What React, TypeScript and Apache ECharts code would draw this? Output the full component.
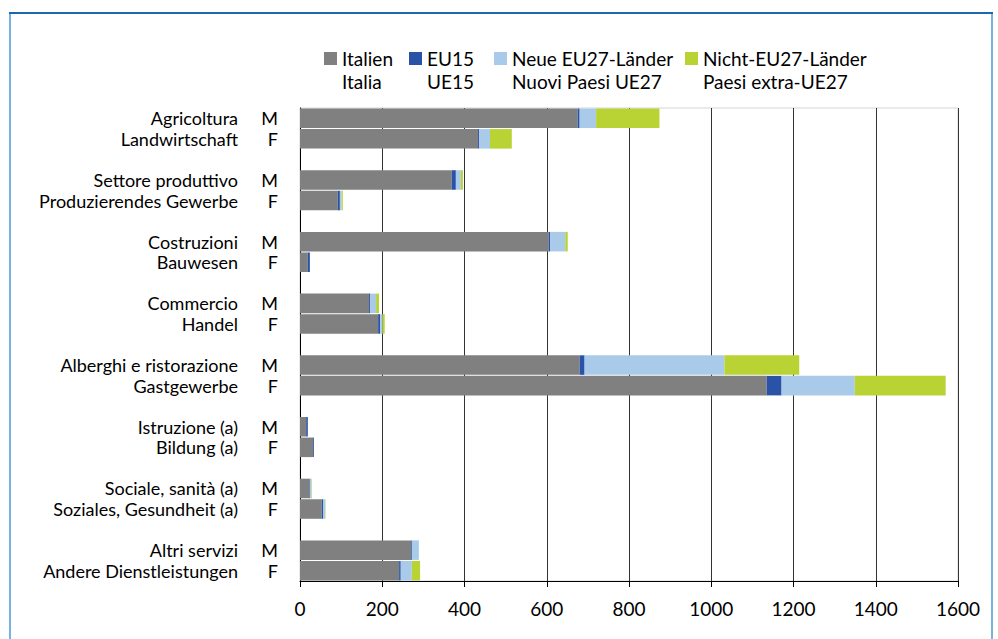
import React, { useEffect, useRef } from "react";
import * as echarts from "echarts";

const sectorsIt = [
  "Agricoltura",
  "Settore produttivo",
  "Costruzioni",
  "Commercio",
  "Alberghi e ristorazione",
  "Istruzione (a)",
  "Sociale, sanità (a)",
  "Altri servizi",
];
const sectorsDe = [
  "Landwirtschaft",
  "Produzierendes Gewerbe",
  "Bauwesen",
  "Handel",
  "Gastgewerbe",
  "Bildung (a)",
  "Soziales, Gesundheit (a)",
  "Andere Dienstleistungen",
];

const seriesNames = [
  "Italien\nItalia",
  "EU15\nUE15",
  "Neue EU27-Länder\nNuovi Paesi UE27",
  "Nicht-EU27-Länder\nPaesi extra-UE27",
];

// values per sector, M then F
const italienM = [675, 369, 605, 168, 680, 15, 23, 270];
const italienF = [433, 92, 19, 190, 1135, 32, 53, 241];
const eu15M = [5, 10, 3, 3, 12, 4, 2, 2];
const eu15F = [3, 5, 5, 5, 36, 2, 3, 4];
const neueM = [40, 12, 37, 14, 340, 0, 3, 17];
const neueF = [26, 4, 0, 6, 178, 0, 5, 27];
const extraM = [154, 5, 6, 7, 182, 0, 1, 0];
const extraF = [53, 3, 0, 5, 221, 0, 1, 20];

const xTicks = [0, 200, 400, 600, 800, 1000, 1200, 1400, 1600];

const colors = ["#808080", "#2a52a6", "#a9cbe9", "#b9d234"];
const FONT = "Lato";
const FS = 19;
const FS_CAT = 18;

function buildRows() {
  const cats: string[] = [];
  for (let s = 0; s < sectorsIt.length; s++) {
    cats.push(`${s}|M`);
    cats.push(`${s}|F`);
    if (s < sectorsIt.length - 1) cats.push(`gap${s}`);
  }
  return cats;
}

function buildData(m: number[], f: number[]) {
  const out: (number | string)[] = [];
  for (let s = 0; s < m.length; s++) {
    out.push(m[s] === 0 ? "-" : m[s]);
    out.push(f[s] === 0 ? "-" : f[s]);
    if (s < m.length - 1) out.push("-");
  }
  return out;
}

export default function App() {
  const ref = useRef<HTMLDivElement>(null);
  useEffect(() => {
    if (!ref.current) return;
    const chart = echarts.init(ref.current, null, { renderer: "svg" });
    const cats = buildRows();
    const pairs = [
      [italienM, italienF],
      [eu15M, eu15F],
      [neueM, neueF],
      [extraM, extraF],
    ];
    const legendLefts = [324, 409, 494, 685];
    const option: any = {
      animation: false,
      backgroundColor: "#ffffff",
      textStyle: { fontFamily: FONT },
      legend: seriesNames.map((n, i) => ({
        data: [n],
        left: legendLefts[i],
        top: 24,
        padding: 0,
        icon: "rect",
        itemWidth: 13,
        itemHeight: 13,
        itemGap: 0,
        selectedMode: false,
        formatter: (name: string) => "\n" + name,
        textStyle: {
          fontFamily: FONT,
          fontSize: FS,
          lineHeight: 23,
          color: "#000",
        },
      })),
      grid: {
        left: 300,
        right: 40,
        top: 108,
        bottom: 58,
        show: true,
        borderColor: "#d4d4d4",
        borderWidth: 1,
      },
      xAxis: {
        type: "value",
        min: 0,
        max: 1600,
        interval: 200,
        axisLine: { show: true, lineStyle: { color: "#000", width: 1 } },
        axisTick: { show: true, length: 6, lineStyle: { color: "#000" } },
        splitLine: { show: true, lineStyle: { color: "#333", width: 1 } },
        axisLabel: {
          fontFamily: FONT,
          fontSize: FS,
          color: "#000",
          margin: 18,
          formatter: (v: number) => (xTicks.includes(v) ? String(v) : ""),
        },
      },
      yAxis: {
        type: "category",
        inverse: true,
        data: cats,
        axisLine: { show: true, onZero: false, lineStyle: { color: "#000", width: 1 } },
        axisTick: { show: false },
        splitLine: { show: false },
        axisLabel: {
          interval: 0,
          margin: 22,
          fontFamily: FONT,
          fontSize: FS_CAT,
          lineHeight: 20,
          color: "#000",
          formatter: (v: string) => {
            if (v.startsWith("gap")) return "";
            const [idx, sex] = v.split("|");
            const s = Number(idx);
            const name = sex === "M" ? sectorsIt[s] : sectorsDe[s];
            return `{a|${name}}{b|${sex}}`;
          },
          rich: {
            a: { width: 232, align: "right", fontFamily: FONT, fontSize: FS_CAT, lineHeight: 20, color: "#000" },
            b: { width: 40, align: "right", fontFamily: FONT, fontSize: FS_CAT, lineHeight: 20, color: "#000" },
          },
        },
      },
      graphic: [
        {
          type: "rect",
          shape: { x: 10, y: 13, width: 982, height: 700 },
          style: { fill: "none", stroke: "#74b3e3", lineWidth: 2 },
          silent: true,
        },
        {
          type: "line",
          shape: { x1: 9, y1: 13, x2: 993, y2: 13 },
          style: { stroke: "#1f67ad", lineWidth: 2 },
          silent: true,
        },
      ],
      series: pairs.map((p, i) => ({
        name: seriesNames[i],
        type: "bar",
        stack: "total",
        barCategoryGap: "5%",
        itemStyle: { color: colors[i] },
        data: buildData(p[0], p[1]),
      })),
    };
    chart.setOption(option);
    return () => chart.dispose();
  }, []);
  return (
    <div
      ref={ref}
      style={{ position: "absolute", left: 0, top: 0, width: 998, height: 639 }}
    />
  );
}
